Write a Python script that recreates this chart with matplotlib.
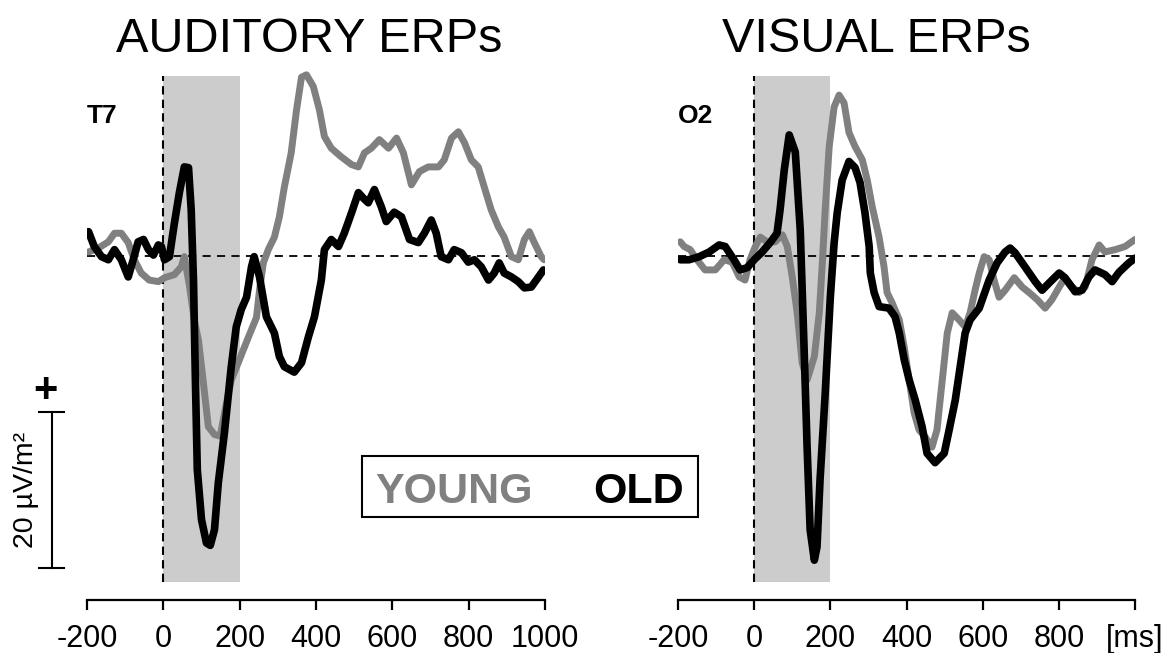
import matplotlib
matplotlib.use("Agg")
import matplotlib.pyplot as plt
from matplotlib.patches import Rectangle

plt.rcParams['font.family'] = ['Liberation Sans', 'DejaVu Sans']

# time axis (ms) and CSD amplitudes (uV/m^2)
# --- auditory, electrode T7 ---
AUD_OLD_T = [-196, -181, -162, -144, -128, -110, -92, -79, -66, -52, -39, -26, -13, -5, 3, 16, 29, 42, 55, 66,
             73, 79, 84, 89, 100, 113, 123, 134, 144, 160, 178, 191, 204, 218, 231, 238, 252, 270, 291, 304,
             317, 343, 362, 380, 396, 414, 422, 440, 459, 474, 493, 511, 524, 537, 553, 571, 584, 605, 624,
             645, 668, 684, 702, 715, 728, 747, 762, 781, 799, 815, 833, 852, 867, 880, 893, 912, 930, 946,
             964, 983, 996]
AUD_OLD_V = [3.1, 1.2, -0.1, -0.5, 0.8, -0.5, -2.7, -0.5, 1.8, 2.1, 0.8, 0.1, 1.4, 1.2, -0.5, -0.1, 4.2, 8.1, 11.4, 11.3,
             5.9, -3.1, -15.9, -27.4, -33.8, -36.8, -37.1, -35.1, -29.1, -22.7, -14.2, -9.1, -6.9, -5.3, -1.4, -0.1,
             -2.7, -7.8, -9.9, -12.9, -14.2, -14.9, -13.7, -10.4, -7.8, -3.1, 0.8, 2.1, 1.2, 2.9, 5.5, 8.1, 7.4,
             6.8, 8.5, 6.3, 4.4, 5.6, 5.0, 2.1, 1.7, 2.9, 4.6, 2.9, -0.1, -0.5, 0.8, 0.4, -0.8, -0.5, -1.4, -3.1,
             -2.2, -0.9, -2.2, -2.7, -3.3, -4.1, -4.0, -2.7, -1.8]

AUD_YOUNG_T = [-196, -170, -144, -128, -110, -92, -76, -58, -37, -13, 3, 29, 47, 55, 68, 81, 92, 105, 118, 134,
               149, 162, 178, 197, 223, 244, 252, 262, 275, 291, 304, 317, 335, 349, 362, 375, 393, 409, 422,
               440, 466, 493, 511, 527, 545, 566, 590, 611, 629, 650, 671, 694, 721, 736, 755, 773, 789, 807,
               825, 841, 859, 878, 893, 912, 930, 946, 959, 972, 990, 998]
AUD_YOUNG_V = [0.5, 1.0, 1.8, 2.9, 2.9, 1.7, -0.5, -2.2, -3.1, -3.3, -2.8, -2.4, -1.4, -0.1, -3.7, -8.2, -10.8,
               -16.3, -21.9, -22.9, -23.1, -19.7, -15.9, -13.6, -10.4, -7.9, -4.4, -0.9, 0.8, 2.4, 5.0, 8.8, 13.2,
               18.7, 22.9, 23.2, 21.7, 18.7, 15.3, 13.8, 12.7, 11.7, 11.4, 13.2, 13.8, 14.9, 13.8, 15.1, 13.2, 9.1,
               10.8, 11.4, 11.4, 12.3, 15.1, 15.9, 14.5, 12.3, 11.4, 8.8, 5.9, 3.7, 2.4, -0.1, -0.5, 2.1, 3.1, 1.7,
               -0.1, -0.5]

# --- visual, electrode O2 ---
VIS_OLD_T = [-194, -171, -144, -118, -92, -76, -53, -37, -18, 0, 21, 42, 60, 68, 79, 92, 108, 121, 131, 139, 147,
             158, 165, 173, 186, 200, 210, 218, 231, 249, 265, 278, 291, 302, 305, 315, 328, 354, 370, 381, 394,
             407, 423, 441, 454, 475, 499, 512, 528, 541, 554, 567, 591, 617, 638, 659, 672, 685, 711, 738, 756,
             774, 801, 816, 843, 861, 879, 895, 921, 940, 958, 984, 1000]
VIS_OLD_V = [-0.5, -0.5, -0.1, 0.5, 1.4, 1.2, -0.5, -1.8, -1.5, -0.5, 0.5, 1.7, 2.9, 5.9, 11.0, 15.5, 13.3, 3.3,
             -11.7, -24.5, -35.1, -39.0, -37.3, -28.7, -18.1, -5.3, 1.7, 5.5, 9.7, 12.1, 11.3, 9.4, 5.5, 1.2, -2.2,
             -4.7, -6.5, -6.7, -7.8, -9.9, -13.3, -15.9, -18.5, -21.9, -25.3, -26.5, -25.3, -22.3, -18.5, -14.2,
             -9.9, -8.2, -6.7, -3.1, -0.9, 0.5, 1.0, 0.4, -1.4, -3.3, -4.4, -3.5, -2.2, -2.8, -4.6, -4.4, -2.7,
             -1.8, -2.4, -3.3, -2.1, -0.9, -0.3]

VIS_YOUNG_T = [-194, -184, -168, -150, -129, -102, -79, -58, -39, -24, -11, 3, 16, 34, 55, 74, 87, 100, 113, 126,
               139, 158, 171, 179, 186, 197, 210, 223, 236, 249, 265, 284, 297, 310, 328, 341, 349, 362, 381, 394,
               407, 420, 433, 449, 467, 480, 494, 507, 520, 538, 554, 567, 580, 591, 604, 617, 630, 643, 659, 683,
               704, 722, 743, 764, 782, 801, 816, 835, 853, 869, 887, 906, 921, 948, 974, 1000]
VIS_YOUNG_V = [1.8, 1.2, 0.8, -0.5, -1.8, -1.8, -0.5, -0.8, -2.7, -3.1, -0.5, 1.2, 2.4, 1.8, 1.8, 2.7, 1.2, -2.7,
               -7.3, -13.7, -15.9, -12.9, -7.3, -0.9, 5.5, 14.0, 19.1, 20.6, 19.6, 15.8, 14.0, 12.3, 9.7, 6.3, 2.4,
               -1.4, -4.7, -6.0, -8.2, -11.7, -15.9, -20.1, -22.3, -23.2, -24.5, -22.3, -15.9, -9.9, -7.3, -8.2,
               -9.1, -7.3, -4.4, -2.2, -0.1, -0.5, -3.1, -5.3, -4.4, -2.8, -4.0, -4.7, -5.6, -6.7, -5.6, -4.0, -2.8,
               -4.0, -4.7, -4.0, -0.5, 1.4, 0.5, 0.8, 1.2, 2.1]

XTICKS = [-200, 0, 200, 400, 600, 800, 1000]
AUD_TICKLABELS = ['-200', '0', '200', '400', '600', '800', '1000']
VIS_TICKLABELS = ['-200', '0', '200', '400', '600', '800', '[ms]']

SHADE_WIN = (0, 200)          # grey analysis window in ms
SHADE_LIMS = (-41.8, 23.1)    # vertical extent of the window
SCALE_BAR = (-40, -20)        # 20 uV/m^2 scale bar

YOUNG_COLOR = '#808080'
OLD_COLOR = 'black'

fig = plt.figure(figsize=(11.65, 6.53), dpi=100)

# both panels share the same geometry, just shifted
ax_aud = fig.add_axes([87 / 1165, 53 / 653, 458 / 1165, 540 / 653])
ax_vis = fig.add_axes([678 / 1165, 53 / 653, 457 / 1165, 540 / 653])


def draw_panel(ax, young_t, young_v, old_t, old_v, ticklabels, electrode):
    ax.set_xlim(-200, 1000)
    ax.set_ylim(-44.1, 25.1)

    # grey window + dashed reference lines
    ax.fill_between(SHADE_WIN, SHADE_LIMS[0], SHADE_LIMS[1], color='#cccccc', lw=0, zorder=0)
    ax.plot([0, 0], SHADE_LIMS, color='black', lw=1.5, ls=(0, (4, 2.5)), zorder=1)
    ax.plot([-200, 1000], [0, 0], color='black', lw=1.3, ls=(0, (4.5, 3.5)), zorder=1)

    # young first so old sits on top
    ax.plot(young_t, young_v, color=YOUNG_COLOR, lw=5, solid_joinstyle='round',
            solid_capstyle='round', zorder=2)
    ax.plot(old_t, old_v, color=OLD_COLOR, lw=5.5, solid_joinstyle='round',
            solid_capstyle='round', zorder=3)

    for side in ['top', 'right', 'left']:
        ax.spines[side].set_visible(False)
    ax.spines['bottom'].set_linewidth(1.6)
    ax.set_yticks([])
    ax.set_xticks(XTICKS)
    ax.set_xticklabels(ticklabels)
    ax.tick_params(axis='x', direction='out', length=7, width=1.6, labelsize=22, pad=10)

    ax.text(0.0, 0.883, electrode, transform=ax.transAxes, fontsize=19, fontweight='bold',
            ha='left', va='baseline')


draw_panel(ax_aud, AUD_YOUNG_T, AUD_YOUNG_V, AUD_OLD_T, AUD_OLD_V, AUD_TICKLABELS, 'T7')
draw_panel(ax_vis, VIS_YOUNG_T, VIS_YOUNG_V, VIS_OLD_T, VIS_OLD_V, VIS_TICKLABELS, 'O2')

# scale bar left of the auditory panel
bar_x = -293
ax_aud.plot([bar_x, bar_x], SCALE_BAR, color='black', lw=1.5, clip_on=False)
for yb in SCALE_BAR:
    ax_aud.plot([bar_x - 32, bar_x + 32], [yb, yb], color='black', lw=1.5, clip_on=False)
ax_aud.text(bar_x - 16, SCALE_BAR[1] + 2.7, '+', fontsize=30, fontweight='bold',
            ha='center', va='center', clip_on=False)
ax_aud.text(-360, sum(SCALE_BAR) / 2, '20 µV/m²', fontsize=20.5, rotation=90,
            ha='center', va='center', clip_on=False)

# titles
fig.text(309 / 1165, 1 - 39 / 653, 'AUDITORY ERPs', fontsize=35, ha='center', va='center')
fig.text(876 / 1165, 1 - 39 / 653, 'VISUAL ERPs', fontsize=35, ha='center', va='center')

# legend box
fig.patches.append(Rectangle((362 / 1165, 1 - 517 / 653), 336 / 1165, 61 / 653,
                             transform=fig.transFigure, fill=False, ec='black', lw=1.5))
fig.text(375 / 1165, 1 - 503 / 653, 'YOUNG', fontsize=31, fontweight='bold',
         color=YOUNG_COLOR, ha='left', va='baseline')
fig.text(684 / 1165, 1 - 503 / 653, 'OLD', fontsize=31, fontweight='bold',
         color=OLD_COLOR, ha='right', va='baseline')

fig.savefig('out.png', dpi=100)
